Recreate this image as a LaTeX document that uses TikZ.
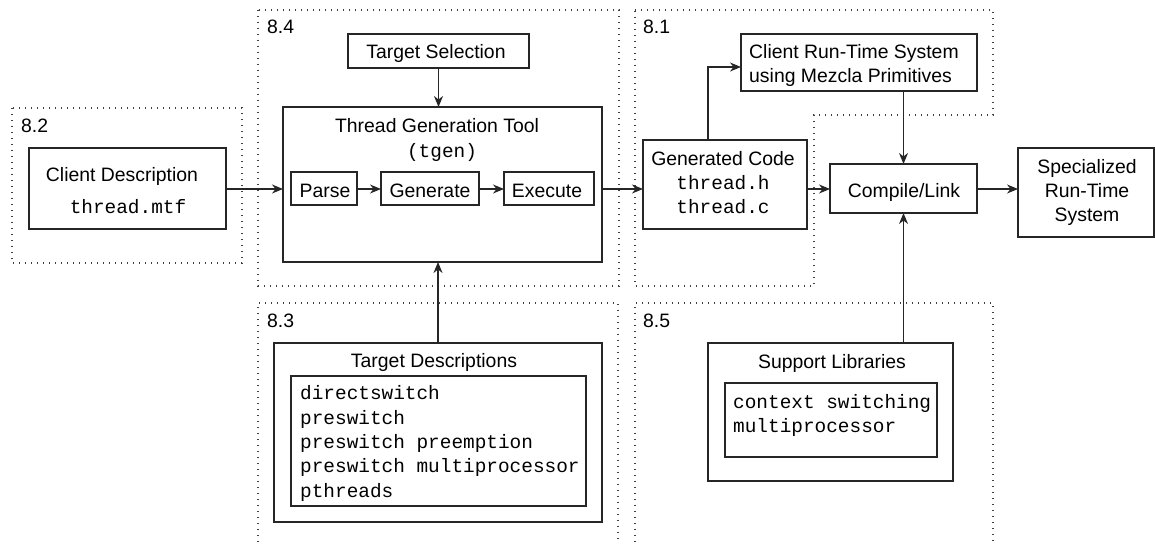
\documentclass[tikz,border=0pt]{standalone}
\usepackage{fontspec}
\setmainfont{Liberation Sans}
\setmonofont{Liberation Mono}
\usetikzlibrary{arrows.meta}
\begin{document}
\begin{tikzpicture}[x=1pt,y=-1pt,
  box/.style={draw=black!85, line width=1.2pt, inner sep=0pt, outer sep=0pt, rectangle},
  region/.style={draw=black!75, line width=1.1pt, dash pattern=on 1.1pt off 4.9pt},
  arr/.style={draw=black!85, line width=1.2pt, -{Stealth[length=11pt,width=9pt,inset=3.5pt]}},
  txt/.style={font=\fontsize{19.4}{23}\selectfont, inner sep=0pt, anchor=base},
  tt/.style={font=\fontsize{19.4}{23}\selectfont\ttfamily, inner sep=0pt, anchor=base},
  ttl/.style={tt, anchor=base west},
  sec/.style={txt, anchor=base west},
]
\useasboundingbox (0,0) rectangle (1155,543);

% dotted regions
\draw[region] (12,108) rectangle (242,263);
\draw[region] (258,10) rectangle (619,286);
\draw[region] (635,10) -- (993,10) -- (993,115) -- (814,115) -- (814,286) -- (635,286) -- cycle;
\draw[region] (258,560) -- (258,303) -- (618,303) -- (618,560);
\draw[region] (635,560) -- (635,303) -- (993,303) -- (993,560);

\node[sec] (s82) at (21,132) {8.2};
\node[sec] (s84) at (267,34) {8.4};
\node[sec] (s81) at (643,34) {8.1};
\node[sec] (s83) at (267,327) {8.3};
\node[sec] (s85) at (643,327) {8.5};

% boxes
\node[box, minimum width=197pt, minimum height=81pt] (cd) at (127.5,188.5) {};
\node[box, minimum width=181pt, minimum height=34pt] (ts) at (438.5,51) {};
\node[box, minimum width=319pt, minimum height=155pt] (tgt) at (442.5,184.5) {};
\node[box, minimum width=66pt, minimum height=33pt] (parse) at (324,188.5) {};
\node[box, minimum width=98pt, minimum height=33pt] (gen) at (430,188.5) {};
\node[box, minimum width=90pt, minimum height=33pt] (exe) at (549,188.5) {};
\node[box, minimum width=328pt, minimum height=179pt] (td) at (438,432.5) {};
\node[box, minimum width=295pt, minimum height=130pt] (tdi) at (438.5,441) {};
\node[box, minimum width=164pt, minimum height=89pt] (gc) at (725,184.5) {};
\node[box, minimum width=236pt, minimum height=57pt] (crts) at (859,62.5) {};
\node[box, minimum width=147pt, minimum height=49pt] (cl) at (903.5,188.5) {};
\node[box, minimum width=136pt, minimum height=89pt] (srt) at (1086,192.5) {};
\node[box, minimum width=245pt, minimum height=138pt] (sl) at (830.5,412) {};
\node[box, minimum width=212pt, minimum height=74pt] (sli) at (831,420) {};

% texts
\node[txt] (cdt) at (122,181) {Client Description};
\node[tt] (cdf) at (128,213) {thread.mtf};
\node[txt] (tst) at (436,59) {Target Selection};
\node[txt] (tgtt) at (437,132) {Thread Generation Tool};
\node[tt] (tgtf) at (442,157) {(tgen)};
\node[txt] (parset) at (325,197) {Parse};
\node[txt] (gent) at (430,197) {Generate};
\node[txt] (exet) at (547,197) {Execute};
\node[txt] (gct) at (723,165) {Generated Code};
\node[tt] (gch) at (723,189) {thread.h};
\node[tt] (gcc) at (723,213) {thread.c};
\node[sec] (crt1) at (749,59) {Client Run-Time System};
\node[sec] (crt2) at (749,82) {using Mezcla Primitives};
\node[txt] (clt) at (904,197) {Compile/Link};
\node[txt] (srt1) at (1087,173) {Specialized};
\node[txt] (srt2) at (1087,197) {Run-Time};
\node[txt] (srt3) at (1087,221) {System};
\node[txt] (tdt) at (434,367) {Target Descriptions};
\node[ttl] (td1) at (300,399) {directswitch};
\node[ttl] (td2) at (300,424) {preswitch};
\node[ttl] (td3) at (300,448) {preswitch preemption};
\node[ttl] (td4) at (300,472) {preswitch multiprocessor};
\node[ttl] (td5) at (300,497) {pthreads};
\node[txt] (slt) at (832,368) {Support Libraries};
\node[ttl] (sl1) at (733,408) {context switching};
\node[ttl] (sl2) at (733,432) {multiprocessor};

% connectors
\coordinate (row) at (0,189);
\coordinate (gcup) at (708,0);
\draw[arr] (cd.east |- row) -- (tgt.west |- row);
\draw[arr] (parse.east |- row) -- (gen.west |- row);
\draw[arr] (gen.east |- row) -- (exe.west |- row);
\draw[arr] (tgt.east |- row) -- (gc.west |- row);
\draw[arr] (gc.east |- row) -- (cl.west |- row);
\draw[arr] (cl.east |- row) -- (srt.west |- row);
\draw[arr] (ts.south) -- (ts.south |- tgt.north);
\draw[arr] (td.north) -- (td.north |- tgt.south);
\draw[arr] (gc.north -| gcup) |- ([yshift=-4.5pt]crts.west);
\draw[arr] (cl.north |- crts.south) -- (cl.north);
\draw[arr] (cl.south |- sl.north) -- (cl.south);
\end{tikzpicture}
\end{document}
